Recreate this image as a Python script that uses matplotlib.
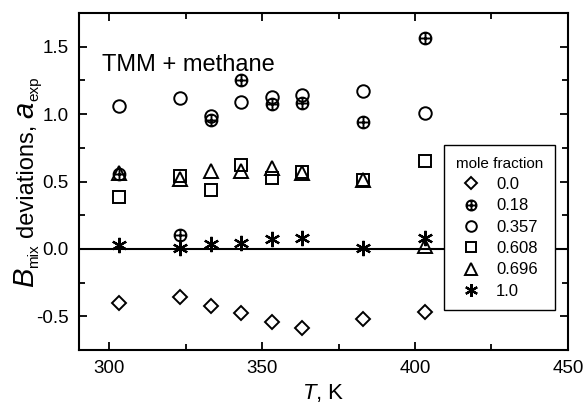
import numpy as np
import matplotlib
matplotlib.use('Agg')
import matplotlib.pyplot as plt
from matplotlib.path import Path
from matplotlib.ticker import MultipleLocator

# 온도 (K)
T = [303.15, 323.15, 333.15, 343.15, 353.15, 363.15, 383.15, 403.15]

# 몰분율별 편차 a_exp
dev_00 = [-0.40, -0.355, -0.425, -0.475, -0.54, -0.585, -0.52, -0.465]
dev_018 = [0.555, 0.105, 0.96, 1.255, 1.075, 1.085, 0.94, 1.565]
dev_0357 = [1.057, 1.123, 0.985, 1.09, 1.126, 1.145, 1.17, 1.012]
dev_0608 = [0.385, 0.54, 0.435, 0.62, 0.53, 0.57, 0.51, 0.655]
dev_0696 = [0.565, 0.52, 0.575, 0.575, 0.60, 0.565, 0.515, 0.02]
dev_10 = [0.03, 0.005, 0.04, 0.045, 0.075, 0.085, 0.01, 0.08]

fractions = ['0.0', '0.18', '0.357', '0.608', '0.696', '1.0']

plt.rcParams['font.family'] = ['Liberation Sans', 'DejaVu Sans']
plt.rcParams['mathtext.fontset'] = 'custom'
plt.rcParams['mathtext.rm'] = 'Liberation Sans'
plt.rcParams['mathtext.it'] = 'Liberation Sans:italic'

# 십자 원 마커
circle = Path.unit_circle()
plus = Path([[-1, 0], [1, 0], [0, -1], [0, 1]],
            [Path.MOVETO, Path.LINETO, Path.MOVETO, Path.LINETO])
cross_circle = Path.make_compound_path(circle, plus)

W, H = 583, 408
fig, ax = plt.subplots(figsize=(W / 100, H / 100), dpi=100)
fig.subplots_adjust(left=0.135, right=0.974, top=0.968, bottom=0.142)

ax.axhline(0, color='black', lw=1.5, zorder=1)

styles = [
    (dev_00, 'D', 7.5),
    (dev_018, cross_circle, 8.5),
    (dev_0357, 'o', 9),
    (dev_0608, 's', 8),
    (dev_0696, '^', 9.5),
    (dev_10, (6, 2, 0), 11),
]
for (vals, mk, ms), lab in zip(styles, fractions):
    ax.plot(T, vals, linestyle='none', marker=mk, markersize=ms,
            markerfacecolor='none', markeredgecolor='black',
            markeredgewidth=1.4 if mk != (6, 2, 0) else 1.6,
            color='black', label=lab, zorder=3)

ax.set_xlim(290, 450)
ax.set_ylim(-0.75, 1.75)
ax.xaxis.set_major_locator(MultipleLocator(50))
ax.xaxis.set_minor_locator(MultipleLocator(25))
ax.yaxis.set_major_locator(MultipleLocator(0.5))
ax.yaxis.set_minor_locator(MultipleLocator(0.25))
ax.yaxis.set_major_formatter(plt.FuncFormatter(lambda v, p: f'{v:.1f}'))

ax.tick_params(which='both', direction='in', top=True, right=True,
               labelsize=13.5, width=1.3, pad=7)
ax.tick_params(which='major', length=6)
ax.tick_params(which='minor', length=4)
for s in ax.spines.values():
    s.set_linewidth(1.5)

ax.set_xlabel(r'$\mathit{T}$, K', fontsize=16, labelpad=4)

ax.text(0.047, 0.845, 'TMM + methane', transform=ax.transAxes, fontsize=17,
        ha='left', va='center')

# y축 라벨: 기호(B, a)는 크게, 첨자는 작게 - 조각별로 이어 붙임
renderer = fig.canvas.get_renderer()
pieces = [
    ('B', 21, 'italic', 0),
    ('mix', 11, 'normal', 5),
    (' ', 17, 'normal', 0),
    ('deviations,', 17, 'normal', 0),
    (' ', 17, 'normal', 0),
    ('a', 21, 'italic', 0),
    ('exp', 11, 'normal', 5),
]
x_base = 33.0      # 기준선 (px)
y_pos = H - 287.0  # 시작 위치 (px, 아래쪽 기준)
for txt, fs, st, drop in pieces:
    if txt == ' ':
        y_pos += 0.278 * fs * 100 / 72
        continue
    t = fig.text((x_base + drop) / W, y_pos / H, txt, rotation=90,
                 rotation_mode='anchor', ha='left', va='baseline',
                 fontsize=fs, style=st)
    y_pos += t.get_window_extent(renderer).height

leg = ax.legend(title='mole fraction', loc='upper left',
                bbox_to_anchor=(0.747, 0.608), borderaxespad=0,
                prop={'size': 12}, title_fontsize=11,
                frameon=True, fancybox=False, shadow=False, framealpha=1,
                edgecolor='black', handlelength=1.2, handletextpad=0.9,
                labelspacing=0.38, borderpad=0.7, markerscale=0.85)
leg.get_frame().set_linewidth(1.0)
leg._legend_box.align = 'center'

fig.savefig('out.png', dpi=100)
